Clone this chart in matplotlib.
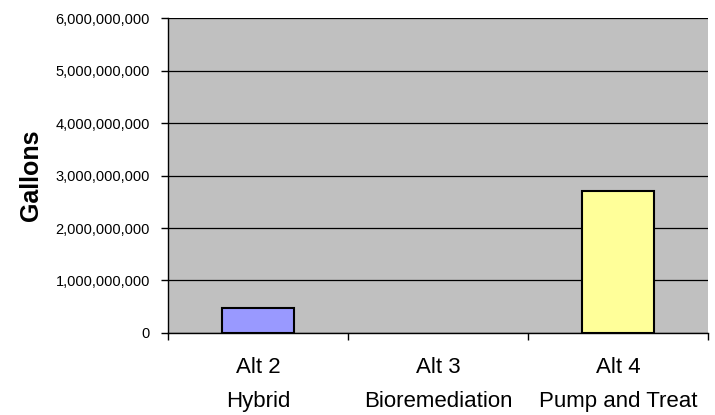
import matplotlib.pyplot as plt
from matplotlib.ticker import FuncFormatter
import numpy as np

plt.rcParams['font.family'] = ['Liberation Sans', 'DejaVu Sans']

# alternatives and total gallons for each
categories = ["Alt 2\nHybrid", "Alt 3\nBioremediation", "Alt 4\nPump and Treat"]
gallons = [480000000, 0, 2700000000]
bar_colors = ["#9999FF", "#C0C0C0", "#FFFF99"]
y_ticks = [0, 1000000000, 2000000000, 3000000000, 4000000000, 5000000000, 6000000000]

fig = plt.figure(figsize=(7.15, 4.15), dpi=100)
ax = fig.add_axes([0.235, 0.1976, 0.755, 0.759])
ax.set_facecolor("#C0C0C0")

x = np.arange(len(categories))
for i in range(len(categories)):
    if gallons[i] > 0:
        ax.bar(x[i], gallons[i], width=0.4, color=bar_colors[i],
               edgecolor="black", linewidth=1.5, zorder=3)

ax.set_xlim(-0.5, len(categories) - 0.5)
ax.set_ylim(0, 6000000000)
ax.set_yticks(y_ticks)
ax.yaxis.set_major_formatter(FuncFormatter(lambda v, p: f"{int(v):,}"))
ax.yaxis.grid(True, color="black", linewidth=0.9, zorder=1)

# category ticks sit between the groups, labels in the middle
ax.set_xticks(np.arange(-0.5, len(categories)), minor=False)
ax.set_xticklabels([])
ax.set_xticks(x, minor=True)
ax.set_xticklabels(categories, minor=True, fontsize=16, linespacing=1.85)
ax.tick_params(axis="x", which="minor", length=0, pad=17)
ax.tick_params(axis="x", which="major", length=5, width=1, color="black")
ax.tick_params(axis="y", length=5, width=1, labelsize=10.5, pad=8)

for s in ["top", "right"]:
    ax.spines[s].set_visible(False)
ax.spines["left"].set_linewidth(1.0)
ax.spines["bottom"].set_linewidth(1.0)

ax.set_ylabel("Gallons", fontsize=18, fontweight="bold")
ax.yaxis.set_label_coords(-0.232, 0.5)

fig.savefig("out.png", dpi=100)
